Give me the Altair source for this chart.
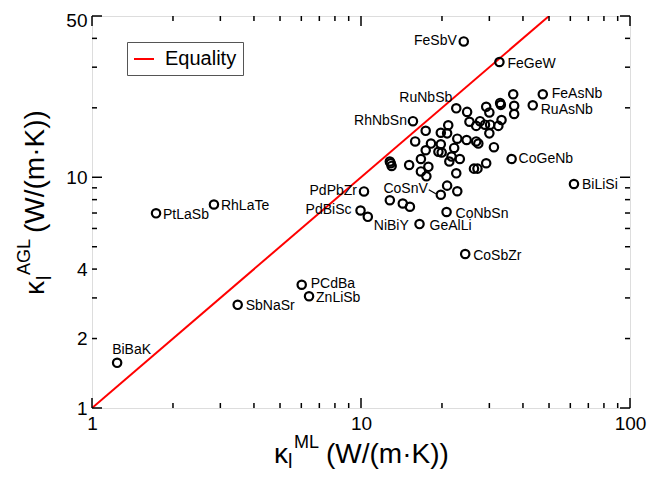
import altair as alt
import pandas as pd

# ---------------- data ----------------
names = [
    "FeSbV", "FeGeW", "FeAsNb", "RuAsNb", "RuNbSb", "RhNbSn", "CoGeNb", "BiLiSi",
    "CoSnV", "CoNbSn", "CoSbZr", "GeAlLi", "NiBiY", "PdBiSc", "PdPbZr", "BiBaK",
    "PtLaSb", "RhLaTe", "SbNaSr", "PCdBa", "ZnLiSb",
] + [""] * 52

kappa_ml = [
    24.1, 32.7, 47.4, 43.5, 22.6, 15.6, 36.3, 61.9,
    19.8, 20.8, 24.4, 16.5, 10.6, 9.96, 10.26, 1.24,
    1.73, 2.84, 3.48, 6.02, 6.41,
    36.8, 32.9, 33.1, 29.2, 37.1, 24.8, 30.0, 37.1, 25.3, 27.7,
    33.3, 21.1, 26.8, 28.9, 30.2, 32.4, 17.4, 19.8, 20.9, 30.0,
    22.8, 24.7, 26.8, 27.3, 15.9, 18.2, 19.8, 22.2, 31.2, 17.4,
    19.4, 19.95, 21.7, 16.7, 21.3, 23.3, 29.2, 12.8, 12.9, 13.0,
    15.1, 17.8, 26.3, 27.1, 16.7, 22.6, 17.5, 20.9, 22.8, 12.8,
    14.3, 15.2,
]

kappa_agl = [
    38.8, 31.6, 22.9, 20.5, 19.9, 17.5, 12.0, 9.35,
    8.4, 7.07, 4.65, 6.27, 6.74, 7.18, 8.68, 1.57,
    6.98, 7.62, 2.80, 3.42, 3.05,
    22.9, 21.0, 20.6, 20.2, 20.4, 19.2, 19.1, 18.8, 17.4, 17.5,
    17.7, 16.8, 16.7, 16.9, 16.9, 16.7, 15.9, 15.6, 15.5, 15.5,
    14.7, 14.5, 14.3, 14.0, 14.3, 14.0, 13.9, 13.4, 13.5, 13.1,
    12.9, 12.8, 12.3, 12.0, 11.7, 12.0, 11.5, 11.7, 11.5, 11.2,
    11.3, 11.1, 10.9, 10.9, 10.6, 10.4, 10.1, 9.2, 8.7, 7.95,
    7.7, 7.45,
]

equality_x = [1, 50]
equality_y = [1, 50]
equality_name = "Equality"

x_tick_labels = [1, 10, 100]
y_tick_labels = [1, 2, 4, 10, 50]
x_major_ticks = [1, 10, 100]
x_minor_ticks = [2, 3, 4, 5, 6, 7, 8, 9, 20, 30, 40, 50, 60, 70, 80, 90]
y_major_ticks = [1, 10, 50]
y_minor_ticks = [2, 3, 4, 5, 6, 7, 8, 9, 20, 30, 40]

# label placement (style): align, dx, dy
label_style = {
    "FeSbV": ("right", -7, 0), "FeGeW": ("left", 8, 2), "FeAsNb": ("left", 9, 0),
    "RuAsNb": ("left", 8, 5), "RuNbSb": ("right", -4, -10), "RhNbSn": ("right", -6, 0),
    "CoGeNb": ("left", 7, 0), "BiLiSi": ("left", 8, 1), "CoSnV": ("right", -13, -6),
    "CoNbSn": ("left", 9, 2), "CoSbZr": ("left", 8, 2), "GeAlLi": ("left", 10, 2),
    "NiBiY": ("left", 6, 9), "PdBiSc": ("right", -9, 0), "PdPbZr": ("right", -7, 0),
    "BiBaK": ("left", -5, -13), "PtLaSb": ("left", 7, 2), "RhLaTe": ("left", 7, 1),
    "SbNaSr": ("left", 8, 1), "PCdBa": ("left", 9, -1), "ZnLiSb": ("left", 7, 2),
}

# ---------------- chart ----------------
W, H = 538, 392
FONT = "Liberation Sans"

df = pd.DataFrame({"name": names, "kml": kappa_ml, "kagl": kappa_agl})
df_eq = pd.DataFrame({"x": equality_x, "y": equality_y, "series": [equality_name] * 2})

xscale = alt.Scale(type="log", domain=[1, 100], nice=False)
yscale = alt.Scale(type="log", domain=[1, 50], nice=False)
xaxis = alt.Axis(values=x_tick_labels, title=None, grid=False, ticks=False, domain=False,
                 labelFontSize=19, labelFont=FONT, labelColor="black", labelPadding=6,
                 labelFlush=False, labelOverlap=False, format="d")
yaxis = alt.Axis(values=y_tick_labels, title=None, grid=False, ticks=False, domain=False,
                 labelFontSize=19, labelFont=FONT, labelColor="black", labelPadding=5,
                 labelFlush=False, labelOverlap=False, format="d",
                 labelOffset={"condition": {"test": "datum.value == 50", "value": 4},
                              "value": 0})


def X(field):
    return alt.X(field, type="quantitative", scale=xscale, axis=xaxis)


def Y(field):
    return alt.Y(field, type="quantitative", scale=yscale, axis=yaxis)


layers = []

line = alt.Chart(df_eq).mark_line(strokeWidth=2, clip=True).encode(
    x=X("x"), y=Y("y"),
    color=alt.Color("series:N", scale=alt.Scale(domain=[equality_name], range=["#ff0000"]),
                    legend=alt.Legend(orient="none", legendX=35, legendY=26, title=None,
                                      symbolType="stroke", symbolSize=400, symbolStrokeWidth=2,
                                      labelFontSize=20, labelFont=FONT, labelColor="black",
                                      strokeColor="#555555", fillColor="white", padding=6,
                                      labelOffset=10)),
)
layers.append(line)

points = alt.Chart(df).mark_point(shape="circle", filled=False, color="black",
                                  strokeWidth=2.2, size=70, opacity=1).encode(
    x=X("kml"), y=Y("kagl"))
layers.append(points)

for nm, (al, dx, dy) in label_style.items():
    sub = df[df["name"] == nm]
    layers.append(alt.Chart(sub).mark_text(align=al, baseline="middle", dx=dx, dy=dy,
                                           fontSize=14, font=FONT, color="black").encode(
        x=X("kml"), y=Y("kagl"), text="name:N"))

# leader line for CoSnV
layers.append(alt.Chart(df[df["name"] == "CoSnV"]).mark_rule(
    color="black", strokeWidth=1.3, xOffset=-5, yOffset=-1, x2Offset=-12, y2Offset=-5).encode(
    x=X("kml"), y=Y("kagl"), x2="kml:Q", y2="kagl:Q"))


def xticks(vals, length):
    d = pd.DataFrame({"v": vals})
    b = alt.Chart(d).mark_rule(color="black", strokeWidth=1.5).encode(
        x=X("v"), y=alt.value(H), y2=alt.value(H - length))
    t = alt.Chart(d).mark_rule(color="black", strokeWidth=1.5).encode(
        x=X("v"), y=alt.value(0), y2=alt.value(length))
    return [b, t]


def yticks(vals, length):
    d = pd.DataFrame({"v": vals})
    l = alt.Chart(d).mark_rule(color="black", strokeWidth=1.5).encode(
        y=Y("v"), x=alt.value(0), x2=alt.value(length))
    r = alt.Chart(d).mark_rule(color="black", strokeWidth=1.5).encode(
        y=Y("v"), x=alt.value(W), x2=alt.value(W - length))
    return [l, r]


layers += xticks(x_major_ticks, 10) + xticks(x_minor_ticks, 5)
layers += yticks(y_major_ticks, 10) + yticks(y_minor_ticks, 5)


def title_text(txt, x, y, size, angle=0):
    d = pd.DataFrame({"t": [txt]})
    return alt.Chart(d).mark_text(align="left", baseline="alphabetic", fontSize=size,
                                  font=FONT, color="black", angle=angle).encode(
        x=alt.value(x), y=alt.value(y), text="t:N")


# x axis title: kappa_l^ML (W/(m·K))
layers += [
    title_text("κ", 182, 447, 28),
    title_text("l", 196, 452, 20),
    title_text("ML", 202, 432, 18),
    title_text("(W/(m·K))", 234, 447, 28),
]
# y axis title: kappa_l^AGL (W/(m·K))
layers += [
    title_text("κ", -48, 279, 28, 270),
    title_text("l", -41, 264, 20, 270),
    title_text("AGL", -62, 259, 18, 270),
    title_text("(W/(m·K))", -48, 217, 28, 270),
]

chart = alt.layer(*layers).properties(
    width=W, height=H,
    autosize=alt.AutoSizeParams(type="none"),
    padding={"left": 84, "top": 8, "right": 30, "bottom": 63},
).configure_view(stroke="black", strokeWidth=2).configure(font=FONT)

chart.save("out.html", embed_options={"renderer": "svg", "actions": False})
